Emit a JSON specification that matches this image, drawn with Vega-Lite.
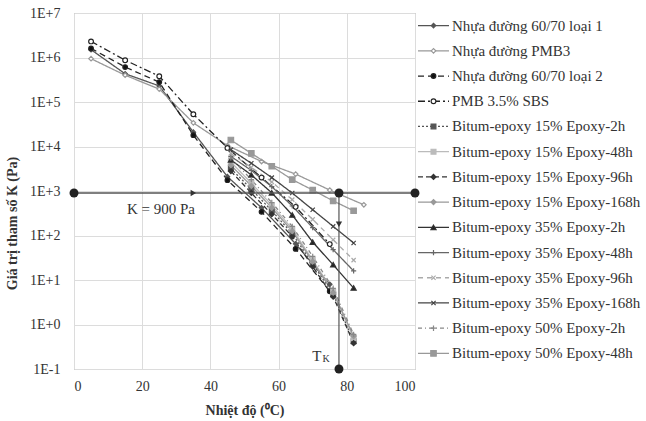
{
  "$schema": "https://vega.github.io/schema/vega-lite/v6.json",
  "background": "white",
  "padding": {"left": 5, "top": 5, "right": 5, "bottom": 5},
  "spacing": 3,
  "bounds": "flush",
  "config": {
    "font": "Liberation Serif",
    "view": {"stroke": null},
    "axis": {"labelFont": "Liberation Serif", "titleFont": "Liberation Serif", "labelColor": "#333", "titleColor": "#333"}
  },
  "datasets": {
    "k": [
      {"series": "Nhựa đường 60/70 loại 1", "t": 5, "K": 1500000},
      {"series": "Nhựa đường 60/70 loại 1", "t": 15, "K": 430000},
      {"series": "Nhựa đường 60/70 loại 1", "t": 25, "K": 230000},
      {"series": "Nhựa đường 60/70 loại 1", "t": 35, "K": 21000},
      {"series": "Nhựa đường 60/70 loại 1", "t": 45, "K": 2100},
      {"series": "Nhựa đường 60/70 loại 1", "t": 55, "K": 420},
      {"series": "Nhựa đường 60/70 loại 1", "t": 65, "K": 65},
      {"series": "Nhựa đường 60/70 loại 1", "t": 75, "K": 8},
      {"series": "Nhựa đường PMB3", "t": 5, "K": 940000},
      {"series": "Nhựa đường PMB3", "t": 15, "K": 400000},
      {"series": "Nhựa đường PMB3", "t": 25, "K": 195000},
      {"series": "Nhựa đường PMB3", "t": 35, "K": 34000},
      {"series": "Nhựa đường PMB3", "t": 45, "K": 10500},
      {"series": "Nhựa đường PMB3", "t": 55, "K": 4600},
      {"series": "Nhựa đường PMB3", "t": 65, "K": 2400},
      {"series": "Nhựa đường PMB3", "t": 75, "K": 1050},
      {"series": "Nhựa đường PMB3", "t": 85, "K": 490},
      {"series": "Nhựa đường 60/70 loại 2", "t": 5, "K": 1600000},
      {"series": "Nhựa đường 60/70 loại 2", "t": 15, "K": 610000},
      {"series": "Nhựa đường 60/70 loại 2", "t": 25, "K": 280000},
      {"series": "Nhựa đường 60/70 loại 2", "t": 35, "K": 18000},
      {"series": "Nhựa đường 60/70 loại 2", "t": 45, "K": 1750},
      {"series": "Nhựa đường 60/70 loại 2", "t": 55, "K": 340},
      {"series": "Nhựa đường 60/70 loại 2", "t": 65, "K": 50},
      {"series": "Nhựa đường 60/70 loại 2", "t": 75, "K": 5.6},
      {"series": "PMB 3.5% SBS", "t": 5, "K": 2300000},
      {"series": "PMB 3.5% SBS", "t": 15, "K": 870000},
      {"series": "PMB 3.5% SBS", "t": 25, "K": 380000},
      {"series": "PMB 3.5% SBS", "t": 35, "K": 53000},
      {"series": "PMB 3.5% SBS", "t": 45, "K": 9300},
      {"series": "PMB 3.5% SBS", "t": 55, "K": 2000},
      {"series": "PMB 3.5% SBS", "t": 65, "K": 440},
      {"series": "PMB 3.5% SBS", "t": 75, "K": 64},
      {"series": "Bitum-epoxy 15% Epoxy-2h", "t": 46, "K": 3200},
      {"series": "Bitum-epoxy 15% Epoxy-2h", "t": 52, "K": 1100},
      {"series": "Bitum-epoxy 15% Epoxy-2h", "t": 58, "K": 360},
      {"series": "Bitum-epoxy 15% Epoxy-2h", "t": 64, "K": 110},
      {"series": "Bitum-epoxy 15% Epoxy-2h", "t": 70, "K": 23},
      {"series": "Bitum-epoxy 15% Epoxy-2h", "t": 76, "K": 4.8},
      {"series": "Bitum-epoxy 15% Epoxy-2h", "t": 82, "K": 0.42},
      {"series": "Bitum-epoxy 15% Epoxy-48h", "t": 46, "K": 4500},
      {"series": "Bitum-epoxy 15% Epoxy-48h", "t": 52, "K": 1500},
      {"series": "Bitum-epoxy 15% Epoxy-48h", "t": 58, "K": 480},
      {"series": "Bitum-epoxy 15% Epoxy-48h", "t": 64, "K": 140},
      {"series": "Bitum-epoxy 15% Epoxy-48h", "t": 70, "K": 28},
      {"series": "Bitum-epoxy 15% Epoxy-48h", "t": 76, "K": 5.5},
      {"series": "Bitum-epoxy 15% Epoxy-48h", "t": 82, "K": 0.5},
      {"series": "Bitum-epoxy 15% Epoxy-96h", "t": 46, "K": 2800},
      {"series": "Bitum-epoxy 15% Epoxy-96h", "t": 52, "K": 900},
      {"series": "Bitum-epoxy 15% Epoxy-96h", "t": 58, "K": 300},
      {"series": "Bitum-epoxy 15% Epoxy-96h", "t": 64, "K": 95},
      {"series": "Bitum-epoxy 15% Epoxy-96h", "t": 70, "K": 20},
      {"series": "Bitum-epoxy 15% Epoxy-96h", "t": 76, "K": 4.2},
      {"series": "Bitum-epoxy 15% Epoxy-96h", "t": 82, "K": 0.38},
      {"series": "Bitum-epoxy 15% Epoxy-168h", "t": 46, "K": 3800},
      {"series": "Bitum-epoxy 15% Epoxy-168h", "t": 52, "K": 1300},
      {"series": "Bitum-epoxy 15% Epoxy-168h", "t": 58, "K": 420},
      {"series": "Bitum-epoxy 15% Epoxy-168h", "t": 64, "K": 125},
      {"series": "Bitum-epoxy 15% Epoxy-168h", "t": 70, "K": 26},
      {"series": "Bitum-epoxy 15% Epoxy-168h", "t": 76, "K": 5.2},
      {"series": "Bitum-epoxy 15% Epoxy-168h", "t": 82, "K": 0.55},
      {"series": "Bitum-epoxy 35% Epoxy-2h", "t": 46, "K": 5000},
      {"series": "Bitum-epoxy 35% Epoxy-2h", "t": 52, "K": 2300},
      {"series": "Bitum-epoxy 35% Epoxy-2h", "t": 58, "K": 910},
      {"series": "Bitum-epoxy 35% Epoxy-2h", "t": 64, "K": 290},
      {"series": "Bitum-epoxy 35% Epoxy-2h", "t": 70, "K": 71},
      {"series": "Bitum-epoxy 35% Epoxy-2h", "t": 76, "K": 22},
      {"series": "Bitum-epoxy 35% Epoxy-2h", "t": 82, "K": 6.6},
      {"series": "Bitum-epoxy 35% Epoxy-48h", "t": 46, "K": 6000},
      {"series": "Bitum-epoxy 35% Epoxy-48h", "t": 52, "K": 2900},
      {"series": "Bitum-epoxy 35% Epoxy-48h", "t": 58, "K": 1250},
      {"series": "Bitum-epoxy 35% Epoxy-48h", "t": 64, "K": 460},
      {"series": "Bitum-epoxy 35% Epoxy-48h", "t": 70, "K": 150},
      {"series": "Bitum-epoxy 35% Epoxy-48h", "t": 76, "K": 48},
      {"series": "Bitum-epoxy 35% Epoxy-48h", "t": 82, "K": 16},
      {"series": "Bitum-epoxy 35% Epoxy-96h", "t": 46, "K": 7000},
      {"series": "Bitum-epoxy 35% Epoxy-96h", "t": 52, "K": 3400},
      {"series": "Bitum-epoxy 35% Epoxy-96h", "t": 58, "K": 1600},
      {"series": "Bitum-epoxy 35% Epoxy-96h", "t": 64, "K": 640},
      {"series": "Bitum-epoxy 35% Epoxy-96h", "t": 70, "K": 230},
      {"series": "Bitum-epoxy 35% Epoxy-96h", "t": 76, "K": 80},
      {"series": "Bitum-epoxy 35% Epoxy-96h", "t": 82, "K": 28},
      {"series": "Bitum-epoxy 35% Epoxy-168h", "t": 46, "K": 8500},
      {"series": "Bitum-epoxy 35% Epoxy-168h", "t": 52, "K": 4200},
      {"series": "Bitum-epoxy 35% Epoxy-168h", "t": 58, "K": 2000},
      {"series": "Bitum-epoxy 35% Epoxy-168h", "t": 64, "K": 900},
      {"series": "Bitum-epoxy 35% Epoxy-168h", "t": 70, "K": 380},
      {"series": "Bitum-epoxy 35% Epoxy-168h", "t": 76, "K": 160},
      {"series": "Bitum-epoxy 35% Epoxy-168h", "t": 82, "K": 68},
      {"series": "Bitum-epoxy 50% Epoxy-2h", "t": 46, "K": 5500},
      {"series": "Bitum-epoxy 50% Epoxy-2h", "t": 52, "K": 1800},
      {"series": "Bitum-epoxy 50% Epoxy-2h", "t": 58, "K": 550},
      {"series": "Bitum-epoxy 50% Epoxy-2h", "t": 64, "K": 160},
      {"series": "Bitum-epoxy 50% Epoxy-2h", "t": 70, "K": 34},
      {"series": "Bitum-epoxy 50% Epoxy-2h", "t": 76, "K": 6.5},
      {"series": "Bitum-epoxy 50% Epoxy-2h", "t": 82, "K": 0.6},
      {"series": "Bitum-epoxy 50% Epoxy-48h", "t": 46, "K": 14000},
      {"series": "Bitum-epoxy 50% Epoxy-48h", "t": 52, "K": 7000},
      {"series": "Bitum-epoxy 50% Epoxy-48h", "t": 58, "K": 3600},
      {"series": "Bitum-epoxy 50% Epoxy-48h", "t": 64, "K": 1800},
      {"series": "Bitum-epoxy 50% Epoxy-48h", "t": 70, "K": 1050},
      {"series": "Bitum-epoxy 50% Epoxy-48h", "t": 76, "K": 600},
      {"series": "Bitum-epoxy 50% Epoxy-48h", "t": 82, "K": 360}
    ],
    "ann": [
      {"kind": "hline", "x": 0, "x2": 100, "y": 900},
      {"kind": "vline", "x": 77.7, "y": 900, "y2": 0.1},
      {"kind": "dot", "x": 0, "y": 900},
      {"kind": "dot", "x": 77.7, "y": 900},
      {"kind": "dot", "x": 100, "y": 900},
      {"kind": "dot", "x": 77.7, "y": 0.1},
      {"kind": "arrowR", "x": 35, "y": 900},
      {"kind": "arrowD", "x": 77.7, "y": 180},
      {"kind": "label", "x": 25.5, "y": 400, "text": "K = 900 Pa"},
      {"kind": "T", "x": 71.2, "y": 0.2, "text": "T"},
      {"kind": "sub", "x": 73.9, "y": 0.17, "text": "K"}
    ],
    "names": [
      {"series": "Nhựa đường 60/70 loại 1"},
      {"series": "Nhựa đường PMB3"},
      {"series": "Nhựa đường 60/70 loại 2"},
      {"series": "PMB 3.5% SBS"},
      {"series": "Bitum-epoxy 15% Epoxy-2h"},
      {"series": "Bitum-epoxy 15% Epoxy-48h"},
      {"series": "Bitum-epoxy 15% Epoxy-96h"},
      {"series": "Bitum-epoxy 15% Epoxy-168h"},
      {"series": "Bitum-epoxy 35% Epoxy-2h"},
      {"series": "Bitum-epoxy 35% Epoxy-48h"},
      {"series": "Bitum-epoxy 35% Epoxy-96h"},
      {"series": "Bitum-epoxy 35% Epoxy-168h"},
      {"series": "Bitum-epoxy 50% Epoxy-2h"},
      {"series": "Bitum-epoxy 50% Epoxy-48h"}
    ]
  },
  "hconcat": [
    {
      "width": 341,
      "height": 356,
      "view": {"stroke": "#999", "strokeWidth": 1},
      "layer": [
        {
          "data": {"name": "k"},
          "mark": {"type": "line", "strokeWidth": 1.3},
          "encoding": {
            "x": {"field": "t", "type": "quantitative", "scale": {"domain": [0, 100], "nice": false},
              "axis": {"values": [0, 20, 40, 60, 80, 100], "grid": true, "gridColor": "#dcdcdc", "ticks": false, "domain": false, "labelFontSize": 14, "labelPadding": 10, "title": "Nhiệt độ (⁰C)", "titleFontSize": 14, "titleFontWeight": "bold", "titlePadding": 10}},
            "y": {"field": "K", "type": "quantitative", "scale": {"type": "log", "domain": [0.1, 10000000], "nice": false},
              "axis": {"values": [0.1, 1, 10, 100, 1000, 10000, 100000, 1000000, 10000000], "grid": true, "gridColor": "#dcdcdc", "ticks": false, "domain": false, "labelFontSize": 14, "labelPadding": 14,
                "labelExpr": "'1E' + (round(log(datum.value)/LN10) >= 0 ? '+' : '-') + abs(round(log(datum.value)/LN10))",
                "title": "Giá trị tham số K (Pa)", "titleFontSize": 14, "titleFontWeight": "bold", "titlePadding": 10, "titleY": 210}},
            "stroke": {"field": "series", "type": "nominal", "legend": null,
              "scale": {"domain": ["Nhựa đường 60/70 loại 1", "Nhựa đường PMB3", "Nhựa đường 60/70 loại 2", "PMB 3.5% SBS", "Bitum-epoxy 15% Epoxy-2h", "Bitum-epoxy 15% Epoxy-48h", "Bitum-epoxy 15% Epoxy-96h", "Bitum-epoxy 15% Epoxy-168h", "Bitum-epoxy 35% Epoxy-2h", "Bitum-epoxy 35% Epoxy-48h", "Bitum-epoxy 35% Epoxy-96h", "Bitum-epoxy 35% Epoxy-168h", "Bitum-epoxy 50% Epoxy-2h", "Bitum-epoxy 50% Epoxy-48h"],
                "range": ["#555555", "#999999", "#222222", "#222222", "#555555", "#bbbbbb", "#333333", "#999999", "#333333", "#666666", "#aaaaaa", "#444444", "#888888", "#999999"]}},
            "strokeDash": {"field": "series", "type": "nominal", "legend": null,
              "scale": {"domain": ["Nhựa đường 60/70 loại 1", "Nhựa đường PMB3", "Nhựa đường 60/70 loại 2", "PMB 3.5% SBS", "Bitum-epoxy 15% Epoxy-2h", "Bitum-epoxy 15% Epoxy-48h", "Bitum-epoxy 15% Epoxy-96h", "Bitum-epoxy 15% Epoxy-168h", "Bitum-epoxy 35% Epoxy-2h", "Bitum-epoxy 35% Epoxy-48h", "Bitum-epoxy 35% Epoxy-96h", "Bitum-epoxy 35% Epoxy-168h", "Bitum-epoxy 50% Epoxy-2h", "Bitum-epoxy 50% Epoxy-48h"],
                "range": [[1, 0], [1, 0], [6, 4], [7, 3, 2, 3], [2, 2], [1, 0], [5, 3], [1, 0], [1, 0], [1, 0], [5, 4], [1, 0], [4, 3, 1, 3], [1, 0]]}}
          }
        },
        {
          "data": {"name": "k"},
          "mark": {"type": "point", "opacity": 1, "strokeWidth": 1.2},
          "encoding": {
            "x": {"field": "t", "type": "quantitative"},
            "y": {"field": "K", "type": "quantitative"},
            "stroke": {"field": "series", "type": "nominal", "legend": null},
            "shape": {"field": "series", "type": "nominal", "legend": null,
              "scale": {"domain": ["Nhựa đường 60/70 loại 1", "Nhựa đường PMB3", "Nhựa đường 60/70 loại 2", "PMB 3.5% SBS", "Bitum-epoxy 15% Epoxy-2h", "Bitum-epoxy 15% Epoxy-48h", "Bitum-epoxy 15% Epoxy-96h", "Bitum-epoxy 15% Epoxy-168h", "Bitum-epoxy 35% Epoxy-2h", "Bitum-epoxy 35% Epoxy-48h", "Bitum-epoxy 35% Epoxy-96h", "Bitum-epoxy 35% Epoxy-168h", "Bitum-epoxy 50% Epoxy-2h", "Bitum-epoxy 50% Epoxy-48h"],
                "range": ["diamond", "diamond", "circle", "circle", "square", "square", "diamond", "diamond", "triangle-up", "M-1,0H1M0,-1V1", "M-0.8,-0.8L0.8,0.8M-0.8,0.8L0.8,-0.8", "M-0.8,-0.8L0.8,0.8M-0.8,0.8L0.8,-0.8", "M-1,0H1M0,-1V1", "square"]}},
            "fill": {"field": "series", "type": "nominal", "legend": null,
              "scale": {"domain": ["Nhựa đường 60/70 loại 1", "Nhựa đường PMB3", "Nhựa đường 60/70 loại 2", "PMB 3.5% SBS", "Bitum-epoxy 15% Epoxy-2h", "Bitum-epoxy 15% Epoxy-48h", "Bitum-epoxy 15% Epoxy-96h", "Bitum-epoxy 15% Epoxy-168h", "Bitum-epoxy 35% Epoxy-2h", "Bitum-epoxy 35% Epoxy-48h", "Bitum-epoxy 35% Epoxy-96h", "Bitum-epoxy 35% Epoxy-168h", "Bitum-epoxy 50% Epoxy-2h", "Bitum-epoxy 50% Epoxy-48h"],
                "range": ["#555555", "#ffffff", "#111111", "#ffffff", "#555555", "#bbbbbb", "#333333", "#999999", "#222222", "transparent", "transparent", "transparent", "transparent", "#999999"]}},
            "size": {"field": "series", "type": "nominal", "legend": null,
              "scale": {"domain": ["Nhựa đường 60/70 loại 1", "Nhựa đường PMB3", "Nhựa đường 60/70 loại 2", "PMB 3.5% SBS", "Bitum-epoxy 15% Epoxy-2h", "Bitum-epoxy 15% Epoxy-48h", "Bitum-epoxy 15% Epoxy-96h", "Bitum-epoxy 15% Epoxy-168h", "Bitum-epoxy 35% Epoxy-2h", "Bitum-epoxy 35% Epoxy-48h", "Bitum-epoxy 35% Epoxy-96h", "Bitum-epoxy 35% Epoxy-168h", "Bitum-epoxy 50% Epoxy-2h", "Bitum-epoxy 50% Epoxy-48h"],
                "range": [20, 30, 40, 45, 28, 25, 12, 25, 35, 40, 40, 40, 40, 22]}}
          }
        },
        {
          "data": {"name": "ann"},
          "transform": [{"filter": "datum.kind == 'hline'"}],
          "mark": {"type": "rule", "color": "#555", "strokeWidth": 1.4},
          "encoding": {"x": {"field": "x", "type": "quantitative"}, "x2": {"field": "x2"}, "y": {"field": "y", "type": "quantitative"}}
        },
        {
          "data": {"name": "ann"},
          "transform": [{"filter": "datum.kind == 'vline'"}],
          "mark": {"type": "rule", "color": "#555", "strokeWidth": 1.2},
          "encoding": {"x": {"field": "x", "type": "quantitative"}, "y": {"field": "y", "type": "quantitative"}, "y2": {"field": "y2"}}
        },
        {
          "data": {"name": "ann"},
          "transform": [{"filter": "datum.kind == 'dot'"}],
          "mark": {"type": "point", "shape": "circle", "filled": true, "color": "#222", "size": 80, "opacity": 1},
          "encoding": {"x": {"field": "x", "type": "quantitative"}, "y": {"field": "y", "type": "quantitative"}}
        },
        {
          "data": {"name": "ann"},
          "transform": [{"filter": "datum.kind == 'arrowR'"}],
          "mark": {"type": "point", "shape": "triangle-right", "filled": true, "color": "#333", "size": 40, "opacity": 1},
          "encoding": {"x": {"field": "x", "type": "quantitative"}, "y": {"field": "y", "type": "quantitative"}}
        },
        {
          "data": {"name": "ann"},
          "transform": [{"filter": "datum.kind == 'arrowD'"}],
          "mark": {"type": "point", "shape": "triangle-down", "filled": true, "color": "#333", "size": 40, "opacity": 1},
          "encoding": {"x": {"field": "x", "type": "quantitative"}, "y": {"field": "y", "type": "quantitative"}}
        },
        {
          "data": {"name": "ann"},
          "transform": [{"filter": "datum.kind == 'label'"}],
          "mark": {"type": "text", "font": "Liberation Serif", "fontSize": 15, "color": "#333", "align": "center", "baseline": "middle"},
          "encoding": {"x": {"field": "x", "type": "quantitative"}, "y": {"field": "y", "type": "quantitative"}, "text": {"field": "text"}}
        },
        {
          "data": {"name": "ann"},
          "transform": [{"filter": "datum.kind == 'T'"}],
          "mark": {"type": "text", "font": "Liberation Serif", "fontSize": 15, "color": "#333", "align": "center", "baseline": "middle"},
          "encoding": {"x": {"field": "x", "type": "quantitative"}, "y": {"field": "y", "type": "quantitative"}, "text": {"field": "text"}}
        },
        {
          "data": {"name": "ann"},
          "transform": [{"filter": "datum.kind == 'sub'"}],
          "mark": {"type": "text", "font": "Liberation Serif", "fontSize": 10, "color": "#333", "align": "center", "baseline": "middle"},
          "encoding": {"x": {"field": "x", "type": "quantitative"}, "y": {"field": "y", "type": "quantitative"}, "text": {"field": "text"}}
        }
      ]
    },
    {
      "width": 31,
      "height": 353,
      "data": {"name": "names"},
      "encoding": {
        "y": {"field": "series", "type": "nominal", "axis": null,
          "scale": {"type": "point", "padding": 0.5, "domain": ["Nhựa đường 60/70 loại 1", "Nhựa đường PMB3", "Nhựa đường 60/70 loại 2", "PMB 3.5% SBS", "Bitum-epoxy 15% Epoxy-2h", "Bitum-epoxy 15% Epoxy-48h", "Bitum-epoxy 15% Epoxy-96h", "Bitum-epoxy 15% Epoxy-168h", "Bitum-epoxy 35% Epoxy-2h", "Bitum-epoxy 35% Epoxy-48h", "Bitum-epoxy 35% Epoxy-96h", "Bitum-epoxy 35% Epoxy-168h", "Bitum-epoxy 50% Epoxy-2h", "Bitum-epoxy 50% Epoxy-48h"]}}
      },
      "layer": [
        {
          "mark": {"type": "rule", "strokeWidth": 1.3},
          "encoding": {
            "x": {"datum": 0, "type": "quantitative", "scale": {"domain": [0, 1]}, "axis": null},
            "x2": {"datum": 1},
            "stroke": {"field": "series", "type": "nominal", "legend": null},
            "strokeDash": {"field": "series", "type": "nominal", "legend": null}
          }
        },
        {
          "mark": {"type": "point", "opacity": 1, "strokeWidth": 1.2},
          "encoding": {
            "x": {"datum": 0.5, "type": "quantitative"},
            "stroke": {"field": "series", "type": "nominal", "legend": null},
            "shape": {"field": "series", "type": "nominal", "legend": null},
            "fill": {"field": "series", "type": "nominal", "legend": null},
            "size": {"field": "series", "type": "nominal", "legend": null}
          }
        },
        {
          "mark": {"type": "text", "align": "left", "baseline": "middle", "dx": 3, "font": "Liberation Serif", "fontSize": 15, "color": "#333"},
          "encoding": {
            "x": {"datum": 1, "type": "quantitative"},
            "text": {"field": "series"}
          }
        }
      ]
    }
  ]
}
